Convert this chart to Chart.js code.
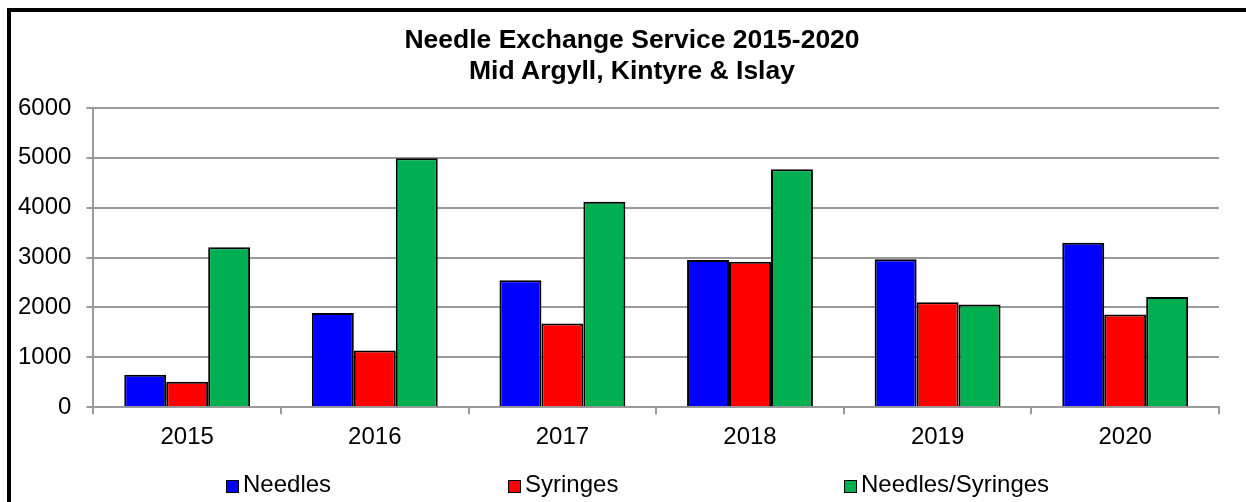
<!DOCTYPE html>
<html>
<head>
<meta charset="utf-8">
<script src="https://cdn.jsdelivr.net/npm/chart.js@4.4.0/dist/chart.umd.min.js"></script>
<style>
  html, body { margin: 0; padding: 0; background: #fff; }
  body { width: 1246px; height: 502px; position: relative; overflow: hidden; font-family: "Liberation Sans", Arial, sans-serif; }
  #frame { position: absolute; left: 7px; top: 8px; width: 1400px; height: 700px; border-top: 4px solid #000; border-left: 4px solid #000; pointer-events: none; }
  canvas { position: absolute; left: 0; top: 0; }
  #title { position: absolute; left: 332px; width: 600px; top: 24px; text-align: center; font-weight: bold; font-size: 26.5px; line-height: 31px; color: #000; }
  .leg { position: absolute; top: 470px; font-size: 24px; color: #000; white-space: nowrap; line-height: 28px; }
  .leg span.box { display: inline-block; width: 11px; height: 11px; border: 1px solid #000; margin-right: 4px; vertical-align: -1px; }
</style>
</head>
<body>
<canvas id="barChart" width="1246" height="502"></canvas>
<div id="frame"></div>
<div id="title"></div>
<div id="legend"></div>
<script>
// data
var years = ["2015", "2016", "2017", "2018", "2019", "2020"];
var needles = [650, 1890, 2545, 2950, 2965, 3300];
var syringes = [510, 1135, 1680, 2915, 2105, 1860];
var needlesSyringes = [3210, 4990, 4120, 4770, 2060, 2210];
var yTicks = [0, 1000, 2000, 3000, 4000, 5000, 6000];

var titleLines = ["Needle Exchange Service 2015-2020", "Mid Argyll, Kintyre & Islay"];
var seriesNames = ["Needles", "Syringes", "Needles/Syringes"];
var barColors = ["#0000FF", "#FF0000", "#00B050"];
var legendLeft = [226, 508, 844];

var fontFam = "'Liberation Sans', Arial, sans-serif";
var gridGray = "#9a9a9a";

new Chart("barChart", {
  type: "bar",
  data: {
    labels: years,
    datasets: [{
      label: seriesNames[0],
      backgroundColor: barColors[0],
      data: needles
    }, {
      label: seriesNames[1],
      backgroundColor: barColors[1],
      data: syringes
    }, {
      label: seriesNames[2],
      backgroundColor: barColors[2],
      data: needlesSyringes
    }]
  },
  options: {
    responsive: false,
    animation: false,
    devicePixelRatio: 1,
    datasets: {
      bar: {
        borderColor: "#000",
        borderWidth: 2,
        categoryPercentage: 0.671,
        barPercentage: 1.0
      }
    },
    layout: {
      padding: { left: 3, right: 27, top: 108, bottom: 41 }
    },
    plugins: {
      legend: { display: false },
      tooltip: { enabled: false },
      // title sits off-centre in the original, drawn as html below
      title: { display: false }
    },
    scales: {
      x: {
        grid: {
          offset: true,
          drawOnChartArea: false,
          drawTicks: true,
          tickLength: 7,
          color: gridGray,
          lineWidth: 2
        },
        border: { color: gridGray, width: 2 },
        ticks: {
          color: "#000",
          padding: 9,
          font: { family: fontFam, size: 24 }
        }
      },
      y: {
        min: 0,
        max: 6000,
        afterBuildTicks: function (axis) {
          axis.ticks = yTicks.map(function (v) { return { value: v }; });
        },
        grid: {
          color: gridGray,
          lineWidth: 2,
          tickLength: 7
        },
        border: { color: gridGray, width: 2 },
        ticks: {
          color: "#000",
          padding: 15,
          font: { family: fontFam, size: 24 },
          callback: function (value) { return String(value); }
        }
      }
    }
  }
});

document.getElementById("title").innerHTML = titleLines.join("<br>");

// legend laid out like the original (uneven gaps)
var legend = document.getElementById("legend");
for (let i = 0; i < seriesNames.length; i++) {
  var item = document.createElement("div");
  item.className = "leg";
  item.style.left = legendLeft[i] + "px";
  item.innerHTML = '<span class="box" style="background:' + barColors[i] + '"></span>' + seriesNames[i];
  legend.appendChild(item);
}
</script>
</body>
</html>
